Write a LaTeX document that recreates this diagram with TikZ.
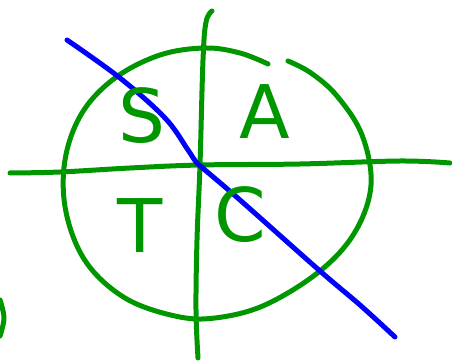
\documentclass[tikz,border=0pt]{standalone}
\usepackage{fontspec}
\setmainfont{DejaVu Sans}
\usetikzlibrary{positioning}

\definecolor{penGreen}{RGB}{0,150,0}
\definecolor{penBlue}{RGB}{0,0,255}

\begin{document}
\begin{tikzpicture}[
    x=1pt, y=-1pt,
    greenpen/.style={draw=penGreen, line width=5pt, line cap=round, line join=round},
    bluepen/.style={draw=penBlue, line width=5pt, line cap=round, line join=round},
    letter/.style={text=penGreen, font=\fontsize{74}{74}\selectfont, inner sep=0pt}
]
\useasboundingbox (0,0) rectangle (452,363);

% Circle (hand drawn, open at the top right)
\draw[greenpen] plot[smooth, tension=0.6] coordinates {
    (268,64) (240,53) (205,48) (160,55) (115,78) (82,113) (65,160)
    (66,212) (86,262) (125,298) (175,316) (215,318) (265,305)
    (320,271) (355,232) (371,185) (362,135) (337,96) (311,73) (288,61)};

% Axes
\draw[greenpen] plot[smooth, tension=0.6] coordinates {
    (212,11) (206,22) (203,60) (200,165) (197,240) (196,310) (198,358)};
\draw[greenpen] plot[smooth, tension=0.6] coordinates {
    (10,173) (60,172) (130,168) (200,165) (300,164) (400,161) (450,163)};

% Piece of a circle at the left edge
\draw[greenpen] plot[smooth, tension=0.6] coordinates {
    (0,300) (4,318) (0,336)};

% Blue line
\draw[bluepen] plot[smooth, tension=0.6] coordinates {
    (67,40) (120,78) (165,118) (188,150) (196,162) (205,170)
    (240,200) (320,271) (360,305) (395,337)};

% Quadrant letters
\node[letter] (S) at (142,116) {S};
\node[letter] (A) at (265,112) {A};
\node[letter] (T) at (140,226) {T};
\node[letter] (C) at (240,215) {C};

\end{tikzpicture}
\end{document}
